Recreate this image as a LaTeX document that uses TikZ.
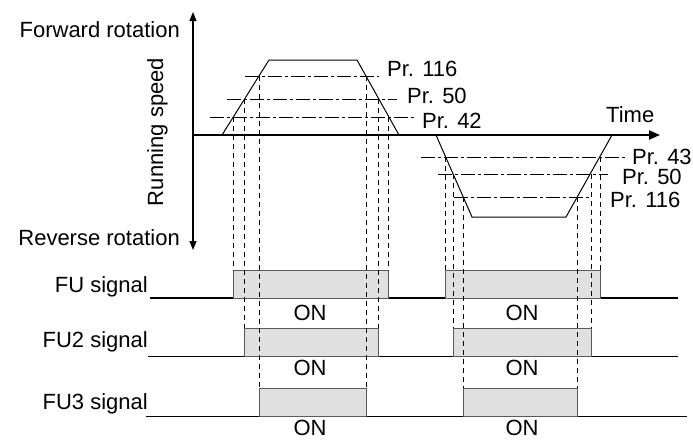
\documentclass[tikz,border=0pt]{standalone}
\usepackage{fontspec}
\setmainfont{Liberation Sans}
\usetikzlibrary{arrows.meta,positioning}
\definecolor{onfill}{HTML}{E0E0E0}
\definecolor{onedge}{HTML}{5A5A5A}

\begin{document}
\begin{tikzpicture}[x=1pt,y=-1pt,
	lbl/.style={font=\fontsize{22}{24}\selectfont,inner sep=0pt},
	nivel/.style={line width=0.7pt,dash pattern=on 14pt off 3pt on 3pt off 3pt},
	guia/.style={line width=0.7pt,dash pattern=on 5pt off 4pt},
	onbox/.style={fill=onfill,draw=onedge,line width=0.8pt}]
	\useasboundingbox (0,0) rectangle (693,439);
	% ejes
	\coordinate (vtop) at (193,12);
	\coordinate (vbot) at (193,250);
	\coordinate (t0) at (193,135);
	\coordinate (tend) at (660,135);
	\draw[{Triangle[width=7pt,length=9pt]}-{Triangle[width=7pt,length=9pt]},line width=1.2pt](vbot)--(vtop);
	\draw[-{Triangle[width=9pt,length=11pt]},line width=2pt](t0)--(tend);
	\node[lbl,anchor=base east](fwd)at(180,37){Forward rotation};
	\node[lbl,anchor=base east](rev)at(180,245){Reverse rotation};
	\node[lbl,anchor=base,rotate=90](speed)at(163,132){Running speed};
	\node[lbl,anchor=west](time)at(606,115){Time};
	% perfiles de velocidad
	\draw[line width=1pt](222,135)--(269,60)--(357,60)--(399,135);
	\draw[line width=1pt](436,135)--(472,217)--(566,217)--(612,135);
	% niveles
	\foreach \y/\xa/\xb/\lx/\ly/\txt/\nm in
	{76/245/379/387/69/{Pr. 116}/fa,
		99/227/397/407/96/{Pr. 50}/fb,
		117/210/415/422/121/{Pr. 42}/fc,
		157/421/627/632/157/{Pr. 43}/ra,
		174/438/608/622/177/{Pr. 50}/rb,
		197/454/590/610/200/{Pr. 116}/rc}{
		\draw[nivel](\xa,\y)--(\xb,\y);
		\node[lbl,anchor=west](\nm)at(\lx,\ly){\txt};
	}
	% senales
	\draw[line width=1.6pt](150,298)--(678,298);
	\draw[line width=0.9pt](148,356)--(678,356);
	\draw[line width=0.9pt](146,416)--(687,416);
	\draw[onbox](233,270)rectangle(388,298);
	\draw[onbox](445,270)rectangle(600,298);
	\draw[onbox](244,328)rectangle(378,356);
	\draw[onbox](453,328)rectangle(591,356);
	\draw[onbox](259,388)rectangle(366,416);
	\draw[onbox](463,388)rectangle(577,416);
	\node[lbl,anchor=base east](fu)at(148,292){FU signal};
	\node[lbl,anchor=base east](fu2)at(148,347){FU2 signal};
	\node[lbl,anchor=base east](fu3)at(148,409){FU3 signal};
	\foreach \x/\y/\nm in {310/313/ona,522/313/onb,310/368/onc,522/368/ond,310/428/one,522/428/onf}
	\node[lbl](\nm)at(\x,\y){ON};
	% guias
	\foreach \x/\ya/\yb in
	{233/117/270, 244/99/328, 259/76/388, 366/76/388, 378/99/328, 388/117/270,
		445/157/270, 453/174/328, 463/197/388, 577/197/388, 591/174/328, 600/157/270}
	\draw[guia](\x,\ya)--(\x,\yb);
\end{tikzpicture}
\end{document}
